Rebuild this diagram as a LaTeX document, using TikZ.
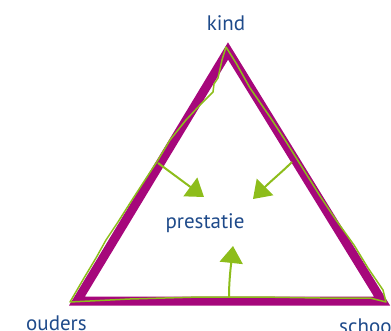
\documentclass[tikz,border=0pt]{standalone}
\usepackage{fontspec}
\setmainfont{PT Sans}
\usetikzlibrary{arrows.meta}
\definecolor{mag}{HTML}{A6077B}
\definecolor{lime}{HTML}{8DBD1B}
\definecolor{tblue}{HTML}{1E4A8A}
\tikzset{
  lbl/.style={text=tblue, font=\fontsize{21}{25}\selectfont, inner sep=0pt},
  frame/.style={draw=mag, line width=9pt, line join=miter, miter limit=20},
  sketch/.style={draw=lime, line width=1.5pt, line join=round, line cap=round},
  arr/.style={draw=lime, line width=2pt, -{Triangle[length=17pt,width=23pt]}}
}
\begin{document}
\begin{tikzpicture}[x=1pt,y=-1pt]
\useasboundingbox (0,0) rectangle (391,331);
\coordinate (A) at (228,51);
\coordinate (B) at (77,301);
\coordinate (C) at (382,301);
\draw[frame] (A) -- (B) -- (C) -- cycle;
\draw[sketch] (226,47) -- (222,60) -- (218,78) -- (214,84) -- (213,92) -- (200,105) -- (186,120)
  -- (170,140) -- (158,160) -- (145,180) -- (132,200) -- (118,222) -- (106,240) -- (96,258)
  -- (84,278) -- (70,302) -- (90,301) -- (130,299) -- (200,297) -- (260,297) -- (320,298)
  -- (370,298) -- (386,302) -- (383,290) -- (368,268) -- (354,245) -- (336,220) -- (320,196)
  -- (300,164) -- (285,140) -- (270,117) -- (250,88) -- (236,63) -- (226,47);
\node[lbl, anchor=base] (kind) at (226,31) {kind};
\node[lbl, anchor=base] (prest) at (205,229) {prestatie};
\node[lbl, anchor=base west] (ouders) at (26,330) {ouders};
\node[lbl, anchor=base west] (school) at (339,333) {school};
\coordinate (p1) at (158,163);
\coordinate (q1) at (204,197);
\coordinate (p2) at (292,162);
\coordinate (q2) at (253,199);
\coordinate (p3) at (229,297);
\coordinate (q3) at (233,246);
\draw[arr] (p1) -- (q1);
\draw[arr] (p2) .. controls (282,172) and (272,180) .. (q2);
\draw[arr] (p3) .. controls (229,280) and (231,265) .. (q3);
\end{tikzpicture}
\end{document}
